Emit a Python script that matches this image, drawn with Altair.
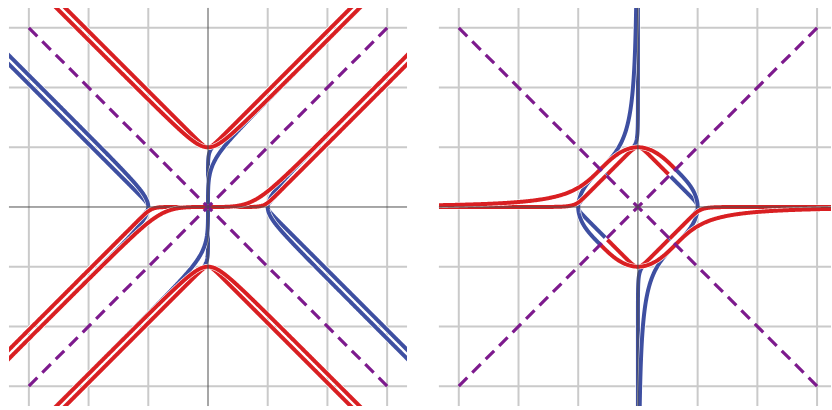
import numpy as np
import pandas as pd
import altair as alt

# Two families of curves, written in null coordinates u = x + y, v = x - y:
#   |u|^-q + |v|^-q = level   (hyperbola-like branches)
#   |v|^-q - |u|^-q = level   (odd curves through the origin)
# The right panel shows their split-complex reciprocals U = 1/u, V = 1/v:
#   |U|^q + |V|^q = level  and  |V|^q - |U|^q = level.
exponents = [12, 3]
level = 2.0

grid_ticks = [-3, -2, -1, 1, 2, 3]
diagonal_ends = [-3, 3]

y_domain = [-10 / 3, 10 / 3]
left_x_domain = [-10 / 3, 10 / 3]
right_x_domain = [-10 / 3, 97 / 30]

RED = "#d91f22"
BLUE = "#3e4fa1"
PURPLE = "#7d1a8d"
GRID = "#cacaca"
AXIS = "#4d4d4d"
LINE_W = 4.0
CASE_W = 5.2


def thin(x, y, lim=4.5, step=0.008):
    ok = np.isfinite(x) & np.isfinite(y) & (np.abs(x) < lim) & (np.abs(y) < lim)
    x, y = x[ok], y[ok]
    keep = [0]
    lx, ly = x[0], y[0]
    for i in range(1, len(x) - 1):
        if (x[i] - lx) ** 2 + (y[i] - ly) ** 2 >= step * step:
            keep.append(i)
            lx, ly = x[i], y[i]
    keep.append(len(x) - 1)
    return x[keep], y[keep]


def family(q):
    # superellipse |U|^q + |V|^q = level, one quadrant, magnitudes
    z = np.linspace(-40, 40, 12001)
    ua = np.exp((np.log(level) - np.logaddexp(0, -z)) / q)
    va = np.exp((np.log(level) - np.logaddexp(0, z)) / q)
    # hyperbola |V|^q - |U|^q = level, magnitudes
    lt = np.linspace(-30, 30, 12001)
    ut = np.exp(lt)
    vt = np.exp(np.logaddexp(np.log(level), q * lt) / q)
    return ua, va, ut, vt


def to_xy(U, V):
    return (U + V) / 2, (U - V) / 2


left_curves = {"blue": [], "red": []}
right_curves = {"blue": [], "red": []}

for q in exponents:
    ua, va, ut, vt = family(q)
    for su, sv in [(1, 1), (-1, -1), (1, -1), (-1, 1)]:
        col = "blue" if su * sv > 0 else "red"
        U, V = su * ua, sv * va
        right_curves[col].append(thin(*to_xy(U, V)))
        left_curves[col].append(thin(*to_xy(1 / U, 1 / V)))
    for su, sv in [(1, 1), (-1, -1), (-1, 1), (1, -1)]:
        col = "red" if su * sv > 0 else "blue"
        U, V = su * ut, sv * vt
        right_curves[col].append(thin(*to_xy(U, V)))
    # odd curves on the left pass through the origin: join the two halves
    for (s1, s2), col in [(((1, 1), (-1, -1)), "red"), (((1, -1), (-1, 1)), "blue")]:
        xa, ya = to_xy(1 / (s1[0] * ut), 1 / (s1[1] * vt))
        xb, yb = to_xy(1 / (s2[0] * ut), 1 / (s2[1] * vt))
        x = np.concatenate([xa, [0.0], xb[::-1]])
        y = np.concatenate([ya, [0.0], yb[::-1]])
        left_curves[col].append(thin(x, y))


def panel(curves, xdom, width):
    xs = alt.Scale(domain=xdom, nice=False, zero=False)
    ys = alt.Scale(domain=y_domain, nice=False, zero=False)

    def X(f):
        return alt.X(f, type="quantitative", scale=xs, axis=None)

    def Y(f):
        return alt.Y(f, type="quantitative", scale=ys, axis=None)

    layers = []
    vgrid = pd.DataFrame({"x": grid_ticks, "y": y_domain[0], "y2": y_domain[1]})
    hgrid = pd.DataFrame({"y": grid_ticks, "x": xdom[0], "x2": xdom[1]})
    layers.append(alt.Chart(vgrid).mark_rule(color=GRID, strokeWidth=2).encode(
        x=X("x"), y=Y("y"), y2=alt.Y2("y2")))
    layers.append(alt.Chart(hgrid).mark_rule(color=GRID, strokeWidth=2).encode(
        y=Y("y"), x=X("x"), x2=alt.X2("x2")))

    for col, color in [("blue", BLUE), ("red", RED)]:
        for cx, cy in curves[col]:
            d = pd.DataFrame({"x": np.round(cx, 4), "y": np.round(cy, 4),
                              "i": np.arange(len(cx))})
            for c, w in [("white", CASE_W), (color, LINE_W)]:
                layers.append(alt.Chart(d).mark_line(
                    color=c, strokeWidth=w, clip=True, strokeJoin="round"
                ).encode(x=X("x"), y=Y("y"), order=alt.Order("i:Q")))

    diag = pd.DataFrame({"x": [diagonal_ends[0], diagonal_ends[0]],
                         "y": [diagonal_ends[0], diagonal_ends[1]],
                         "x2": [diagonal_ends[1], diagonal_ends[1]],
                         "y2": [diagonal_ends[1], diagonal_ends[0]]})
    layers.append(alt.Chart(diag).mark_rule(
        color=PURPLE, strokeWidth=3.2, strokeDash=[12, 7.12]
    ).encode(x=X("x"), y=Y("y"), x2=alt.X2("x2"), y2=alt.Y2("y2")))

    vax = pd.DataFrame({"x": [0], "y": [y_domain[0]], "y2": [y_domain[1]]})
    hax = pd.DataFrame({"y": [0], "x": [xdom[0]], "x2": [xdom[1]]})
    layers.append(alt.Chart(vax).mark_rule(color=AXIS, strokeWidth=1).encode(
        x=X("x"), y=Y("y"), y2=alt.Y2("y2")))
    layers.append(alt.Chart(hax).mark_rule(color=AXIS, strokeWidth=1).encode(
        y=Y("y"), x=X("x"), x2=alt.X2("x2")))

    return alt.layer(*layers).properties(width=width, height=400)


left = panel(left_curves, left_x_domain, 400)
right = panel(right_curves, right_x_domain, 394)

chart = alt.hconcat(left, right, spacing=30).properties(
    padding={"left": 8, "top": 6, "right": 0, "bottom": 4},
    background="white",
).configure_view(stroke=None)

chart.save("out.html", embed_options={"renderer": "svg", "actions": False})
